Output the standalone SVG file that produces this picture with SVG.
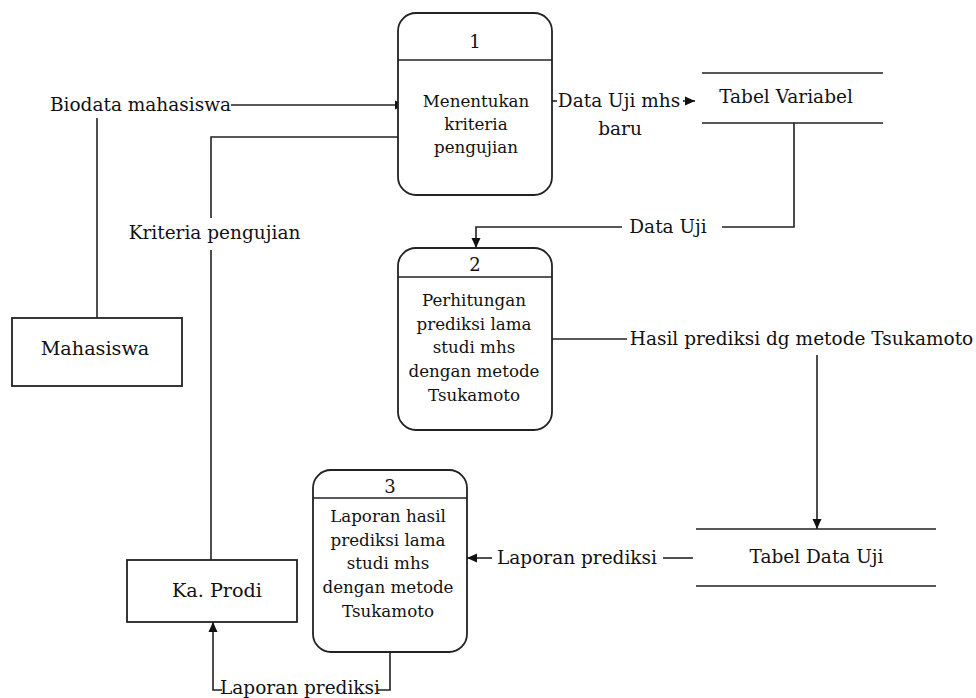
<svg xmlns="http://www.w3.org/2000/svg" width="976" height="698" viewBox="0 0 976 698">
<defs>
<marker id="arr" viewBox="0 0 10 10" refX="10" refY="5" markerWidth="10" markerHeight="10" markerUnits="userSpaceOnUse" orient="auto">
<path d="M0,0.5 L10,5 L0,9.5 Z" fill="#111"/>
</marker>
<style>
text{font-family:'DejaVu Serif',serif;fill:#111}
.lbl{font-size:18.5px;text-anchor:middle}
.ptx{font-size:16.7px;text-anchor:middle}
.num{font-size:18px;text-anchor:middle}
.ent{font-size:19.2px;text-anchor:middle}
.box{fill:#fff;stroke:#222;stroke-width:1.8}
.ln{fill:none;stroke:#222;stroke-width:1.6}
.a{marker-end:url(#arr)}
</style>
</defs>
<rect width="976" height="698" fill="#fff"/>

<g id="connectors">
<path class="ln" d="M97,318 V118"/>
<path class="ln a" d="M231,105 H405"/>
<path class="ln" d="M211,560 V250"/>
<path class="ln a" d="M211,218 V137 H423"/>
<path class="ln" d="M552,101 H557"/>
<path class="ln a" d="M683,101 H695"/>
<path class="ln" d="M794,123 V227 H722"/>
<path class="ln a" d="M622,227 H476 V248"/>
<path class="ln" d="M552,339 H627"/>
<path class="ln a" d="M817,355 V529"/>
<path class="ln" d="M693,558 H663"/>
<path class="ln a" d="M492,558 H467"/>
<path class="ln" d="M390,652 V690 H378"/>
<path class="ln a" d="M222,690 H213 V622"/>
<text class="lbl" x="140.5" y="111">Biodata mahasiswa</text>
<text class="lbl" x="214.5" y="239">Kriteria pengujian</text>
<text class="lbl" x="619" y="107">Data Uji mhs</text>
<text class="lbl" x="620" y="135">baru</text>
<text class="lbl" x="668" y="233">Data Uji</text>
<text class="lbl" x="801.5" y="345">Hasil prediksi dg metode Tsukamoto</text>
<text class="lbl" x="577" y="564">Laporan prediksi</text>
<text class="lbl" x="300" y="694">Laporan prediksi</text>
</g>

<g id="p1">
<rect class="box" x="398" y="13" width="154" height="182" rx="18"/>
<path class="ln" d="M398,60 H552"/>
<text class="num" x="475" y="48">1</text>
<text class="ptx" x="476" y="107">Menentukan</text>
<text class="ptx" x="476" y="130">kriteria</text>
<text class="ptx" x="476" y="153">pengujian</text>
</g>

<g id="p2">
<rect class="box" x="398" y="248" width="154" height="182" rx="18"/>
<path class="ln" d="M398,277 H552"/>
<text class="num" x="475" y="271">2</text>
<text class="ptx" x="474" y="306">Perhitungan</text>
<text class="ptx" x="474" y="330">prediksi lama</text>
<text class="ptx" x="474" y="353">studi mhs</text>
<text class="ptx" x="474" y="377">dengan metode</text>
<text class="ptx" x="474" y="401">Tsukamoto</text>
</g>

<g id="p3">
<rect class="box" x="313" y="470" width="154" height="182" rx="18"/>
<path class="ln" d="M313,498 H467"/>
<text class="num" x="390" y="493">3</text>
<text class="ptx" x="388" y="522">Laporan hasil</text>
<text class="ptx" x="388" y="546">prediksi lama</text>
<text class="ptx" x="388" y="569">studi mhs</text>
<text class="ptx" x="388" y="593">dengan metode</text>
<text class="ptx" x="388" y="617">Tsukamoto</text>
</g>

<g id="mahasiswa">
<rect class="box" x="12" y="318" width="170" height="68"/>
<text class="ent" x="95" y="355">Mahasiswa</text>
</g>

<g id="kaprodi">
<rect class="box" x="127" y="560" width="170" height="62"/>
<text class="ent" x="217" y="597">Ka. Prodi</text>
</g>

<g id="tabel-variabel">
<path class="ln" d="M702,73 H883 M702,123 H883"/>
<text class="lbl" x="786" y="103">Tabel Variabel</text>
</g>

<g id="tabel-data-uji">
<path class="ln" d="M696,529 H936 M696,586 H936"/>
<text class="lbl" x="816.5" y="563">Tabel Data Uji</text>
</g>
</svg>
